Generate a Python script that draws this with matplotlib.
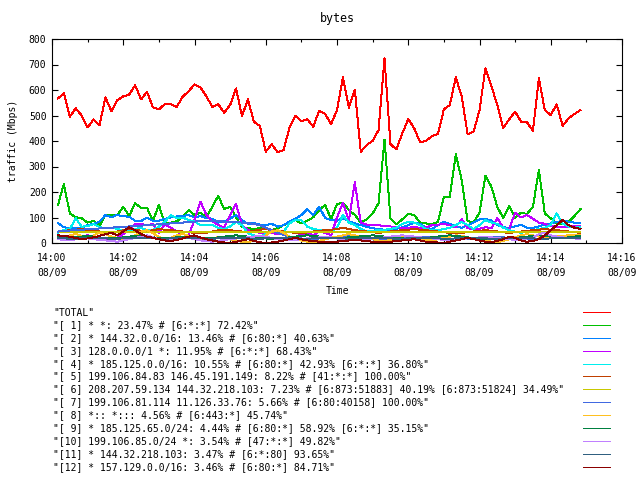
import pandas as pd
import matplotlib
matplotlib.use('Agg')
import matplotlib.pyplot as plt
import matplotlib.dates as mdates
from matplotlib.patches import Rectangle

# samples every 10 s from 14:00:10 on 08/09
start_time = '2009-08-09 14:00:10'

total = [567, 587, 495, 528, 500, 453, 485, 462, 571, 517,
         560, 575, 582, 619, 563, 593, 532, 524, 545, 545,
         534, 573, 595, 622, 610, 575, 534, 544, 511, 541,
         606, 498, 563, 476, 459, 358, 387, 356, 365, 453,
         499, 478, 485, 456, 519, 506, 466, 521, 650, 530,
         602, 358, 384, 401, 443, 724, 388, 367, 430, 486,
         450, 395, 401, 419, 427, 524, 541, 650, 575, 427,
         436, 521, 685, 615, 541, 450, 485, 515, 476, 473,
         440, 646, 521, 502, 544, 459, 489, 506, 521]

s1 = [149, 231, 116, 101, 97, 80, 87, 67, 110, 110,
      110, 142, 106, 156, 138, 138, 87, 149, 77, 80,
      85, 101, 129, 110, 119, 101, 142, 185, 133, 142,
      101, 62, 58, 55, 58, 55, 51, 58, 70, 80,
      90, 77, 87, 101, 129, 150, 93, 153, 158, 129,
      110, 80, 93, 116, 156, 406, 97, 73, 93, 114,
      110, 80, 77, 73, 83, 181, 181, 348, 247, 86,
      80, 119, 264, 221, 142, 97, 146, 99, 119, 114,
      142, 286, 116, 97, 77, 73, 83, 106, 133]

s2 = [78, 62, 57, 57, 60, 70, 75, 83, 110, 101,
      110, 105, 103, 87, 86, 99, 88, 87, 95, 100,
      104, 106, 110, 100, 106, 98, 95, 80, 85, 95,
      110, 90, 75, 78, 72, 70, 75, 64, 70, 85,
      95, 110, 133, 110, 142, 98, 90, 87, 97, 85,
      77, 70, 64, 58, 55, 52, 50, 55, 62, 70,
      80, 75, 60, 55, 70, 83, 75, 65, 60, 70,
      80, 93, 95, 88, 70, 62, 59, 65, 72, 60,
      59, 65, 72, 77, 82, 87, 84, 80, 80]

s3 = [30, 25, 22, 20, 25, 30, 20, 15, 12, 15,
      20, 35, 51, 74, 74, 70, 74, 40, 74, 60,
      45, 35, 30, 90, 162, 110, 85, 70, 60, 110,
      153, 70, 50, 45, 40, 35, 40, 35, 40, 45,
      40, 35, 40, 30, 45, 40, 30, 100, 158, 90,
      238, 80, 72, 72, 70, 66, 65, 62, 60, 60,
      62, 60, 62, 70, 72, 75, 70, 62, 93, 58,
      55, 56, 62, 58, 98, 60, 55, 119, 100, 110,
      95, 80, 75, 68, 62, 62, 65, 68, 68]

s4 = [40, 51, 55, 97, 64, 66, 74, 62, 58, 60,
      55, 50, 45, 55, 60, 50, 52, 64, 83, 110,
      97, 100, 90, 85, 70, 72, 70, 60, 55, 65,
      83, 70, 38, 30, 25, 35, 44, 42, 44, 77,
      90, 90, 64, 55, 51, 50, 45, 60, 110, 80,
      70, 55, 45, 48, 50, 52, 55, 60, 75, 83,
      80, 70, 55, 50, 50, 55, 60, 70, 83, 70,
      55, 70, 90, 80, 75, 60, 50, 45, 40, 45,
      50, 55, 60, 70, 116, 77, 64, 60, 62]

s5 = [45, 48, 50, 52, 55, 50, 48, 45, 42, 40,
      45, 50, 55, 52, 48, 45, 50, 55, 52, 50,
      48, 45, 42, 40, 38, 40, 45, 50, 52, 50,
      48, 45, 42, 48, 52, 55, 50, 48, 45, 42,
      40, 38, 42, 45, 48, 50, 52, 55, 60, 55,
      50, 48, 45, 42, 40, 42, 45, 48, 50, 52,
      55, 52, 50, 48, 45, 42, 40, 38, 40, 42,
      45, 48, 50, 48, 45, 42, 40, 42, 45, 48,
      50, 52, 55, 52, 50, 48, 45, 42, 40]

s6 = [42, 43, 44, 44, 45, 44, 44, 45, 45, 44,
      44, 45, 45, 44, 44, 43, 44, 44, 45, 45,
      44, 44, 44, 43, 42, 42, 43, 44, 44, 44,
      45, 45, 44, 44, 43, 43, 42, 42, 43, 43,
      44, 44, 44, 45, 45, 44, 44, 43, 43, 42,
      42, 43, 44, 44, 45, 45, 45, 44, 44, 44,
      43, 43, 42, 42, 43, 44, 44, 45, 45, 44,
      44, 43, 43, 43, 42, 42, 43, 44, 44, 45,
      45, 44, 44, 43, 43, 42, 42, 43, 43]

s7 = [45, 47, 49, 50, 52, 54, 55, 57, 58, 60,
      62, 63, 65, 66, 68, 70, 72, 73, 75, 77,
      78, 80, 82, 84, 85, 86, 86, 85, 84, 83,
      82, 80, 78, 75, 70, 60, 50, 40, 32, 25,
      20, 18, 15, 15, 18, 20, 22, 25, 28, 30,
      28, 25, 22, 20, 18, 15, 14, 15, 18, 20,
      22, 25, 24, 22, 20, 18, 16, 15, 14, 15,
      18, 20, 22, 25, 24, 22, 20, 18, 16, 15,
      14, 15, 18, 20, 22, 25, 24, 22, 20]

s8 = [20, 25, 30, 35, 28, 22, 30, 40, 35, 25,
      20, 15, 22, 30, 45, 50, 38, 25, 15, 20,
      30, 35, 28, 20, 12, 8, 15, 25, 20, 15,
      10, 5, 3, 10, 20, 30, 45, 50, 40, 25,
      15, 10, 5, 2, 8, 15, 20, 25, 30, 35,
      30, 25, 20, 15, 10, 8, 12, 20, 30, 25,
      20, 15, 12, 10, 15, 20, 25, 30, 28, 22,
      18, 15, 10, 5, 3, 8, 15, 22, 30, 35,
      30, 25, 20, 22, 25, 28, 30, 32, 30]

s9 = [25, 22, 20, 22, 25, 28, 25, 22, 20, 18,
      20, 22, 25, 28, 30, 25, 22, 20, 18, 20,
      22, 25, 24, 22, 20, 18, 20, 22, 25, 28,
      30, 28, 25, 22, 20, 18, 16, 18, 20, 22,
      25, 28, 30, 28, 25, 22, 20, 18, 20, 22,
      24, 26, 28, 30, 28, 25, 22, 20, 18, 16,
      15, 18, 20, 22, 25, 28, 30, 28, 25, 22,
      20, 18, 16, 15, 14, 15, 18, 20, 22, 25,
      28, 30, 28, 25, 22, 20, 22, 25, 28]

s10 = [15, 12, 10, 15, 20, 18, 15, 12, 10, 8,
       5, 10, 15, 20, 25, 30, 22, 15, 10, 12,
       15, 18, 20, 15, 10, 8, 5, 8, 12, 15,
       18, 20, 22, 25, 28, 25, 20, 15, 12, 10,
       12, 15, 18, 20, 22, 25, 22, 18, 15, 12,
       10, 12, 15, 18, 20, 22, 25, 28, 30, 28,
       25, 22, 20, 18, 15, 12, 10, 12, 15, 18,
       20, 22, 25, 22, 20, 18, 15, 12, 15, 18,
       20, 35, 40, 30, 25, 22, 20, 18, 15]

s11 = [18, 18, 17, 17, 18, 19, 19, 18, 18, 17,
       17, 18, 18, 19, 19, 18, 18, 17, 17, 18,
       18, 19, 19, 18, 18, 17, 17, 18, 18, 19,
       19, 18, 18, 17, 17, 18, 18, 19, 19, 18,
       18, 17, 17, 18, 18, 19, 19, 18, 18, 17,
       17, 18, 18, 19, 19, 18, 18, 17, 17, 18,
       18, 19, 19, 18, 18, 17, 17, 18, 18, 19,
       19, 18, 18, 17, 17, 18, 18, 19, 19, 18,
       18, 17, 17, 18, 18, 19, 19, 18, 18]

s12 = [30, 28, 25, 20, 15, 18, 22, 28, 35, 40,
       30, 45, 62, 50, 35, 25, 20, 15, 10, 8,
       12, 18, 25, 30, 22, 15, 10, 5, 2, 0,
       5, 10, 15, 8, 3, 0, 2, 5, 10, 15,
       20, 15, 10, 8, 5, 3, 2, 5, 8, 10,
       12, 10, 8, 5, 3, 2, 5, 8, 10, 12,
       15, 10, 5, 3, 2, 0, 5, 10, 15, 20,
       15, 10, 5, 3, 8, 15, 25, 20, 10, 5,
       8, 15, 30, 50, 70, 90, 70, 60, 55]

labels = ['"TOTAL"',
          '"[ 1] * *: 23.47% # [6:*:*] 72.42%"',
          '"[ 2] * 144.32.0.0/16: 13.46% # [6:80:*] 40.63%"',
          '"[ 3] 128.0.0.0/1 *: 11.95% # [6:*:*] 68.43%"',
          '"[ 4] * 185.125.0.0/16: 10.55% # [6:80:*] 42.93% [6:*:*] 36.80%"',
          '"[ 5] 199.106.84.83 146.45.191.149: 8.22% # [41:*:*] 100.00%"',
          '"[ 6] 208.207.59.134 144.32.218.103: 7.23% # [6:873:51883] 40.19% [6:873:51824] 34.49%"',
          '"[ 7] 199.106.81.114 11.126.33.76: 5.66% # [6:80:40158] 100.00%"',
          '"[ 8] *:: *::: 4.56% # [6:443:*] 45.74%"',
          '"[ 9] * 185.125.65.0/24: 4.44% # [6:80:*] 58.92% [6:*:*] 35.15%"',
          '"[10] 199.106.85.0/24 *: 3.54% # [47:*:*] 49.82%"',
          '"[11] * 144.32.218.103: 3.47% # [6:*:80] 93.65%"',
          '"[12] * 157.129.0.0/16: 3.46% # [6:80:*] 84.71%"']

colors = ['#ff0000', '#00c000', '#0080ff', '#c000ff', '#00eeee', '#c04000',
          '#c8c800', '#4169e1', '#ffc020', '#008040', '#c080ff', '#306080', '#8b0000']

series = [total, s1, s2, s3, s4, s5, s6, s7, s8, s9, s10, s11, s12]
times = pd.date_range(start_time, periods=len(total), freq='10s')

plt.rcParams['font.family'] = 'DejaVu Sans Mono'
plt.rcParams['font.size'] = 7

fig = plt.figure(figsize=(6.4, 4.8), dpi=100)
ax = fig.add_axes([52 / 640, 1 - 243 / 480, 570 / 640, 204 / 480])

for vals, c in zip(series, colors):
    ax.plot(times, vals, color=c, lw=0.7, antialiased=False)

ax.set_xlim(pd.Timestamp('2009-08-09 14:00'), pd.Timestamp('2009-08-09 14:16'))
ax.set_ylim(0, 800)
ax.set_yticks(range(0, 801, 100))
ax.xaxis.set_major_locator(mdates.MinuteLocator(byminute=range(0, 60, 2)))
ax.xaxis.set_minor_locator(mdates.MinuteLocator())
ax.xaxis.set_major_formatter(mdates.DateFormatter('%H:%M\n%m/%d'))
ax.tick_params(which='both', direction='in', top=True, right=True, width=0.8)
ax.tick_params(which='major', length=4.5, pad=4)
ax.tick_params(axis='x', which='major', pad=7)
ax.tick_params(which='minor', length=2.5)
for sp in ax.spines.values():
    sp.set_linewidth(0.8)
for t in ax.get_xticklabels():
    t.set_linespacing(1.6)

ax.set_title('bytes', pad=12)
ax.set_ylabel('traffic (Mbps)', labelpad=8)
ax.set_xlabel('Time', labelpad=6)

# key below the plot: text on the left, 1px colour sample on the right
for i, (lab, c) in enumerate(zip(labels, colors)):
    row = round(312 + i * 12.9)
    y = 1 - (row + 0.5) / 480
    fig.text(53 / 640, y, lab, va='center', ha='left')
    fig.add_artist(Rectangle((583 / 640, 1 - (row + 1) / 480), 28 / 640, 1 / 480,
                             facecolor=c, edgecolor='none', antialiased=False,
                             transform=fig.transFigure))

fig.savefig('out.png', dpi=100)
